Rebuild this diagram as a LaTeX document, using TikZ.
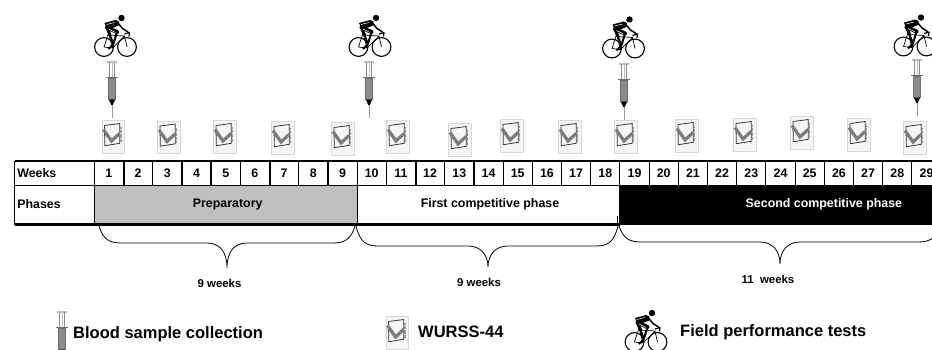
\documentclass[tikz,border=0pt]{standalone}
\usepackage{fontspec}
\setmainfont{Liberation Sans}
\usetikzlibrary{positioning}
\definecolor{Prep}{HTML}{BFBFBF}
\definecolor{Barrel}{HTML}{8C8C8C}
\definecolor{Sheet}{HTML}{BDBDBD}
\definecolor{Tick}{HTML}{6E6E6E}
\tikzset{
  cyclist/.pic={
    \draw[line width=1.1] (-11.5,0) circle[radius=9.4pt] (11.5,0) circle[radius=9.4pt];
    \draw[line width=.7] (-11.5,0) -- (-3,1) -- (9,-11) -- (11.5,0) (-3,1) -- (-7,-14) -- (-11.5,0) (-7,-12) -- (9,-11);
    \fill (-11,-24) -- (0,-27) -- (3.5,-25.5) -- (3,-21.5) -- (-2,-19.5) -- (-8,-17) -- cycle;
    \fill (6,-29) circle[radius=3.2pt];
    \draw[line width=1.5,line cap=round,line join=round] (2,-24.5) -- (7,-18.5) -- (12.5,-15);
    \draw[line width=4,line cap=round,line join=round] (-8.5,-19.5) -- (1.5,-15);
    \draw[line width=2,line join=round] (1.5,-15) -- (-1.5,-5) -- (-4,0);
    \draw[line width=3,line cap=round,line join=round] (-8.5,-19.5) -- (-5.5,-12);
    \draw[line width=1.8,line join=round] (-5.5,-12) -- (-2,-3) -- (-7,2);
    \draw[white,line width=.5] (-9,-22.5) -- (-1,-24.5) (-7,-18) -- (0,-14.5);
    \draw[line width=1.2,line join=round] (9,-13) -- (14,-14.5) -- (13.5,-10.5);
  },
  syringe/.pic={
    \draw[Sheet,line width=1.5] (-5,0) -- (5,0);
    \draw[Tick!80,line width=.7] (-2.5,0) -- (-2.5,15) (2.5,0) -- (2.5,15);
    \draw[Sheet,line width=.9] (0,0) -- (0,15);
    \draw[Tick,line width=1.5] (-6,15.5) -- (6,15.5);
    \fill[Barrel,draw=Tick,line width=.7] (-3.4,16) rectangle (3.4,37.5);
    \fill (-3.2,37.5) -- (3.2,37.5) -- (.7,43) -- (-.7,43) -- cycle;
    \draw[Tick!70,line width=.8] (0,43) -- (0,56);
  },
  checksheet/.pic={
    \fill[Sheet] (-10.8,-15.8) rectangle (11.6,16.6);
    \fill[white!96!black,draw=Sheet!60,line width=.5] (-11.3,-16.3) rectangle (11,16);
    \draw[Tick!50!black,line width=.8,line join=round] (-9,-11.5) -- (6.3,-13.5) -- (6.3,6.3) -- (-8.7,8.7) -- cycle;
    \draw[Tick!90,line width=3.2,line join=miter] (-10,-7.5) -- (-2,4) -- (6.3,-3.7);
    \draw[Tick!70,line width=1.5,dash pattern=on .6 off .7] (7.6,-10) -- (7.6,5.5);
  }
}
\begin{document}
\begin{tikzpicture}[x=1pt,y=-1pt,node distance=0pt,
    cell/.style={draw,outer sep=0pt,inner sep=0pt,line width=.9,font=\fontsize{12.4}{14}\selectfont\bfseries},
    namecell/.style={cell,minimum width=79.8,text width=74.2,align=left},
    weekcell/.style={cell,minimum width=29.2,minimum height=24},
    phasecell/.style={cell,minimum height=39},
    bracelabel/.style={font=\fontsize{11.4}{14}\selectfont\bfseries},
    legendlabel/.style={font=\fontsize{16.5}{20}\selectfont\bfseries,anchor=west,inner sep=0pt}]
  \useasboundingbox (0,0) rectangle (932,349);
  % table
  \node[namecell,minimum height=24] (w0) at (54.4,173) {Weeks};
  \foreach \i [remember=\i as \j (initially 0)] in {1,...,29}
    \node[weekcell,right=of w\j] (w\i) {\i};
  \foreach \i in {1,3,4,6,8,11,13}
    \draw[line width=2] (w\i.north east) -- (w\i.south east);
  \node[namecell,minimum height=39,below=of w0] (phases) {Phases};
  \node[phasecell,fill=Prep,minimum width=262.8,below right=of w1.south west] (prep) {\kern4pt Preparatory};
  \node[phasecell,fill=white,minimum width=262.8,below right=of w10.south west] (first) {\kern3pt First competitive phase};
  \node[phasecell,fill=black,text=white,minimum width=408,below right=of w19.south west] (second) {Second competitive phase};
  \draw[line width=2.6] (w0.north west) -- (932,161);
  \draw[line width=3] (phases.south west) -- (second.south west);
  \draw[line width=.7] (second.south west) ++(-2.5,-1) -- ++(0,-7);
  % braces
  \foreach \xa/\xm/\xb/\ym/\yt in {99/227/355/243/268,356/488/618/246/267,619/780/940/242/264}
    \draw[line width=.8] (\xa,226) .. controls (\xa+4,\ym-4) and (\xa+10,\ym) .. (\xa+22,\ym)
      -- (\xm-20,\ym) .. controls (\xm-8,\ym) and (\xm,\ym+8) .. (\xm,\yt)
      .. controls (\xm,\ym+8) and (\xm+8,\ym) .. (\xm+20,\ym)
      -- (\xb-22,\ym) .. controls (\xb-10,\ym) and (\xb-4,\ym-4) .. (\xb,226);
  \node[bracelabel] (prepweeks) at (219.5,283) {9 weeks};
  \node[bracelabel] (firstweeks) at (479,282) {9 weeks};
  \node[bracelabel] (secondweeks) at (768,279) {11\ \ weeks};
  % timeline marks
  \foreach \x/\y in {115.5/47,370/47,623.5/48.5,915/46.5}
    \pic at (\x,\y) {cyclist};
  \foreach \x/\y in {112/62,369/62,624/64,917/60}
    \pic at (\x,\y) {syringe};
  \foreach \x/\y in {113.5/137,169/137.5,225/137,283/138,343/139,398/137,460/140,512/136,570/137,626/137,687/136,745/135,802/133,859/135,915/138}
    \pic at (\x,\y) {checksheet};
  % legend
  \pic at (62,312) {syringe};
  \node[legendlabel] (bloodlabel) at (73,334) {Blood sample collection};
  \pic at (397.5,333) {checksheet};
  \node[legendlabel] (wursslabel) at (418,332) {WURSS-44};
  \pic at (646,342) {cyclist};
  \node[legendlabel] (fieldlabel) at (680,332) {Field performance tests};
\end{tikzpicture}
\end{document}
